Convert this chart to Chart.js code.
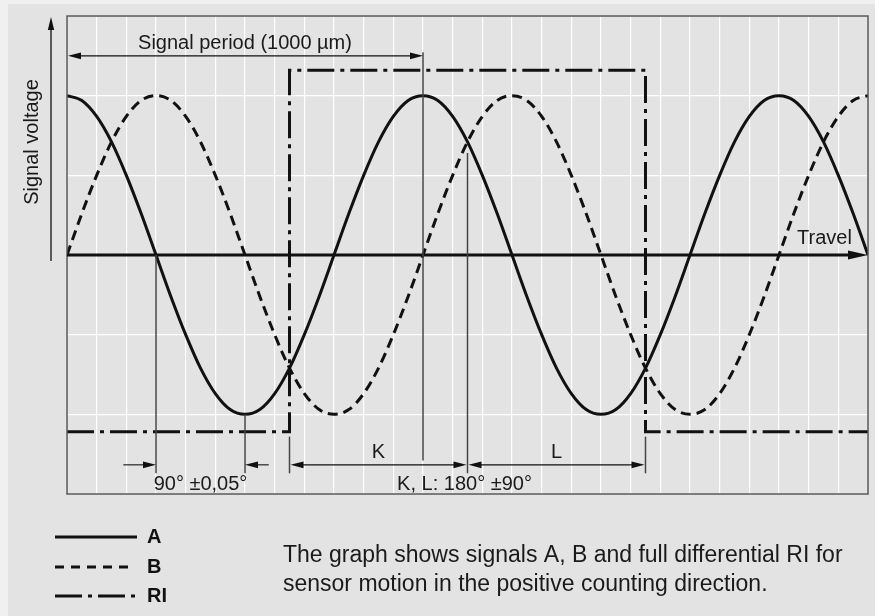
<!DOCTYPE html>
<html><head><meta charset="utf-8">
<script src="https://cdn.jsdelivr.net/npm/chart.js@4/dist/chart.umd.min.js"></script>
<style>
html,body{margin:0;padding:0;background:#f0f0f0;}
#wrap{position:absolute;left:0;top:0;width:875px;height:616px;}
</style></head><body>
<div id="wrap"><canvas id="c" width="875" height="616"></canvas></div>
<script>
// Travel position in electrical degrees (grid column = 30°)
const xDeg = [0,15,30,45,60,75,90,105,120,135,150,165,180,195,210,225,240,255,270,285,300,315,330,345,360,375,390,405,420,435,450,465,480,495,510,525,540,555,570,585,600,615,630,645,660,675,690,705,720,735,750,765,780,795,810];
// Signal A (solid)
const signalA = [1,0.97,0.87,0.71,0.5,0.26,0,-0.26,-0.5,-0.71,-0.87,-0.97,-1,
  -0.97,-0.87,-0.71,-0.5,-0.26,0,0.26,0.5,0.71,0.87,0.97,1,
  0.97,0.87,0.71,0.5,0.26,0,-0.26,-0.5,-0.71,-0.87,-0.97,-1,
  -0.97,-0.87,-0.71,-0.5,-0.26,0,0.26,0.5,0.71,0.87,0.97,1,
  0.97,0.87,0.71,0.5,0.26,0];
// Signal B (dashed)
const signalB = [0,0.26,0.5,0.71,0.87,0.97,1,
  0.97,0.87,0.71,0.5,0.26,0,-0.26,-0.5,-0.71,-0.87,-0.97,-1,
  -0.97,-0.87,-0.71,-0.5,-0.26,0,0.26,0.5,0.71,0.87,0.97,1,
  0.97,0.87,0.71,0.5,0.26,0,-0.26,-0.5,-0.71,-0.87,-0.97,-1,
  -0.97,-0.87,-0.71,-0.5,-0.26,0,0.26,0.5,0.71,0.87,0.97,1];
// Reference signal RI (dash-dot)
const riX = [0,225,225,585,585,810];
const riY = [-1.11,-1.11,1.16,1.16,-1.11,-1.11];
// axis ranges / grid steps
const xRange = [0, 810], xStep = 30;
const yRange = [-1.5, 1.5], yStep = 0.5;
// legend & texts
const legendLabels = ['A','B','RI'];
const noteLines = ['The graph shows signals A, B and full differential RI for','sensor motion in the positive counting direction.'];

const pts = (xs, ys) => xs.map((v,i)=>({x:v, y:ys[i]}));
const FONT = '"Liberation Sans", Arial, sans-serif';

function arrowH(ctx, x, y, dir, len, half){
  ctx.beginPath(); ctx.moveTo(x,y); ctx.lineTo(x-dir*len, y-half); ctx.lineTo(x-dir*len, y+half); ctx.closePath(); ctx.fill();
}
function arrowV(ctx, x, y, dir, len, half){
  ctx.beginPath(); ctx.moveTo(x,y); ctx.lineTo(x-half, y-dir*len); ctx.lineTo(x+half, y-dir*len); ctx.closePath(); ctx.fill();
}
function line(ctx,x1,y1,x2,y2){ctx.beginPath();ctx.moveTo(x1,y1);ctx.lineTo(x2,y2);ctx.stroke();}

const deco = {
  id:'deco',
  beforeDraw(chart){
    const ctx = chart.ctx; ctx.save();
    ctx.fillStyle = '#f0f0f0'; ctx.fillRect(0,0,875,616);
    ctx.fillStyle = '#e3e3e3'; ctx.fillRect(8,4,867,612);
    ctx.restore();
  },
  afterDatasetsDraw(chart){
    const {ctx, chartArea:a, scales:{x,y}} = chart;
    const X = v=>x.getPixelForValue(v), Y = v=>y.getPixelForValue(v);
    ctx.save();
    ctx.lineCap = 'butt';
    // plot frame
    ctx.strokeStyle = '#555'; ctx.lineWidth = 1.5;
    ctx.strokeRect(a.left, a.top, a.right-a.left, a.bottom-a.top);
    // travel axis
    ctx.strokeStyle = '#111'; ctx.fillStyle = '#111'; ctx.lineWidth = 2.8;
    line(ctx, a.left, Y(0), a.right-18, Y(0));
    arrowH(ctx, a.right, Y(0), 1, 20, 4.5);
    // signal voltage axis
    ctx.lineWidth = 1.3;
    const ax = a.left - 16;
    line(ctx, ax, Y(0)+6, ax, a.top+12);
    arrowV(ctx, ax, a.top+1, -1, 13, 3.2);
    // thin vertical reference lines
    ctx.strokeStyle = '#444'; ctx.lineWidth = 1.5;
    line(ctx, X(360), Y(1.273), X(360), Y(-1.29));
    line(ctx, X(405), Y(0.64), X(405), Y(-1.37));
    line(ctx, X(90), Y(0), X(90), Y(-1.37));
    line(ctx, X(180), Y(-1), X(180), Y(-1.37));
    line(ctx, X(225), Y(-1.14), X(225), Y(-1.37));
    line(ctx, X(585), Y(-1.14), X(585), Y(-1.37));
    // signal period dimension
    ctx.strokeStyle = '#111'; ctx.fillStyle = '#111'; ctx.lineWidth = 1.1;
    const yp = Y(1.25);
    line(ctx, X(0)+10, yp, X(360)-10, yp);
    arrowH(ctx, X(0)+1, yp, -1, 13, 3.3);
    arrowH(ctx, X(360), yp, 1, 13, 3.3);
    // bottom dimensions
    const yd = Y(-1.317);
    line(ctx, X(57), yd, X(90)-8, yd); arrowH(ctx, X(90), yd, 1, 13, 3.3);
    line(ctx, X(180)+8, yd, X(204), yd); arrowH(ctx, X(180), yd, -1, 13, 3.3);
    line(ctx, X(225)+8, yd, X(405)-8, yd); arrowH(ctx, X(225)+1, yd, -1, 13, 3.3); arrowH(ctx, X(405)-1, yd, 1, 13, 3.3);
    line(ctx, X(405)+8, yd, X(585)-8, yd); arrowH(ctx, X(405)+1, yd, -1, 13, 3.3); arrowH(ctx, X(585)-1, yd, 1, 13, 3.3);
    // texts
    ctx.fillStyle = '#1a1a1a'; ctx.textAlign = 'center'; ctx.textBaseline = 'alphabetic';
    ctx.font = '20px ' + FONT;
    ctx.fillText('Signal period (1000 \u00b5m)', X(180), 49);
    ctx.fillText('K', X(315), Y(-1.276));
    ctx.fillText('L', X(495), Y(-1.276));
    ctx.fillText('90\u00b0 \u00b10,05\u00b0', X(135), Y(-1.477));
    ctx.fillText('K, L: 180\u00b0 \u00b190\u00b0', X(402), Y(-1.477));
    ctx.fillText('Travel', X(766), Y(0.07));
    ctx.save();
    ctx.translate(a.left-35, 142); ctx.rotate(-Math.PI/2);
    ctx.textBaseline = 'middle';
    ctx.fillText('Signal voltage', 0, 0);
    ctx.restore();
    // legend (custom)
    const ds = chart.data.datasets;
    const ly = [537, 567, 596], lby = [543, 573, 602];
    const lx2 = [137, 132, 135];
    ds.forEach((d,i)=>{
      ctx.strokeStyle = '#111'; ctx.lineWidth = 3;
      ctx.setLineDash(i===1 ? [9,7] : i===2 ? [27,6,4,6] : []);
      line(ctx, 55, ly[i], lx2[i], ly[i]);
      ctx.setLineDash([]);
      ctx.fillStyle = '#111'; ctx.textAlign = 'left';
      ctx.font = 'bold 20px ' + FONT;
      ctx.fillText(d.label, 147, lby[i]);
    });
    ctx.font = '23px ' + FONT; ctx.fillStyle = '#1a1a1a'; ctx.textAlign = 'left';
    ctx.fillText(noteLines[0], 283, 562);
    ctx.fillText(noteLines[1], 283, 591);
    ctx.restore();
  }
};

new Chart(document.getElementById('c'), {
  type: 'line',
  data: {
    datasets: [
      {label: legendLabels[0], data: pts(xDeg, signalA), borderColor:'#111', borderWidth:3, pointRadius:0, cubicInterpolationMode:'monotone', fill:false},
      {label: legendLabels[1], data: pts(xDeg, signalB), borderColor:'#111', borderWidth:3, borderDash:[10,6], pointRadius:0, cubicInterpolationMode:'monotone', fill:false},
      {label: legendLabels[2], data: pts(riX, riY), borderColor:'#111', borderWidth:3, borderDash:[27,6,4,6], pointRadius:0, tension:0, fill:false}
    ]
  },
  options: {
    responsive: false, animation: false, events: [],
    layout: {padding: {left: 67, top: 16, right: 7, bottom: 122}},
    plugins: {legend: {display:false}, tooltip: {enabled:false}},
    scales: {
      x: {type:'linear', min:xRange[0], max:xRange[1],
          ticks:{display:false, stepSize:xStep}, border:{display:false},
          grid:{color:'#ffffff', lineWidth:1.2, drawTicks:false}},
      y: {type:'linear', min:yRange[0], max:yRange[1],
          ticks:{display:false, stepSize:yStep}, border:{display:false},
          grid:{color:'#ffffff', lineWidth:1.2, drawTicks:false}}
    }
  },
  plugins: [deco]
});
</script>
</body></html>
